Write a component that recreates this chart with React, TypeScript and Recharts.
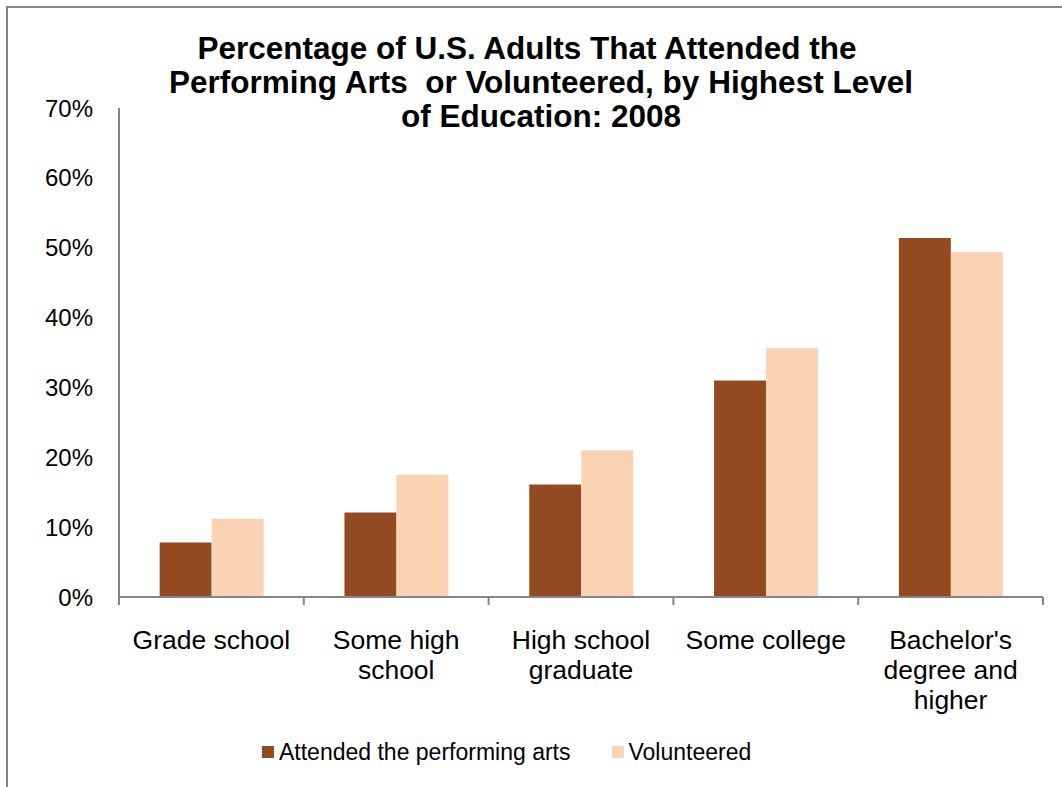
import React from 'react';
import { BarChart, Bar, XAxis, YAxis, Legend } from 'recharts';

// categories and values
const categories = ['Grade school', 'Some high school', 'High school graduate', 'Some college', "Bachelor's degree and higher"];
const categoryLines = [
  ['Grade school'],
  ['Some high', 'school'],
  ['High school', 'graduate'],
  ['Some college'],
  ["Bachelor's", 'degree and', 'higher']
];
const attended = [7.8, 12.1, 16.1, 31.0, 51.4];
const volunteered = [11.2, 17.5, 21.0, 35.6, 49.4];
const yTicks = [0, 10, 20, 30, 40, 50, 60, 70];

const seriesNames = ['Attended the performing arts', 'Volunteered'];
const colors = ['#934A21', '#FAD3B4'];
const titleLines = [
  'Percentage of U.S. Adults That Attended the',
  'Performing Arts\u00a0 or Volunteered, by Highest Level',
  'of Education: 2008'
];

const W = 1062;
const H = 787;
const PLOT_LEFT = 119;
const PLOT_RIGHT = 1043;
const BAND = (PLOT_RIGHT - PLOT_LEFT) / categories.length;
const AXIS_COLOR = '#868686';
const FONT = '"Liberation Sans", Arial, sans-serif';

const data = categories.map((name, i) => ({
  name,
  attended: attended[i],
  volunteered: volunteered[i]
}));

function XTick(props: any) {
  const { x, y, payload, index } = props;
  const i = payload.index ?? index;
  const lines = categoryLines[i] || [String(payload.value)];
  const left = x - BAND / 2;
  const right = x + BAND / 2;
  const last = i === categories.length - 1;
  return (
    <g>
      <line x1={left} y1={y} x2={left} y2={y + 8} stroke={AXIS_COLOR} strokeWidth={2} />
      {last && <line x1={right} y1={y} x2={right} y2={y + 8} stroke={AXIS_COLOR} strokeWidth={2} />}
      <text x={x} y={y} textAnchor="middle" fill="#000" fontFamily={FONT} fontSize={26.5}>
        {lines.map((l: string, k: number) => (
          <tspan key={k} x={x} dy={k === 0 ? 52 : 30}>{l}</tspan>
        ))}
      </text>
    </g>
  );
}

function LegendContent() {
  return (
    <div style={{ height: 60, display: 'flex', justifyContent: 'flex-start', alignItems: 'flex-start', paddingTop: 12, paddingLeft: 262, boxSizing: 'border-box', fontFamily: FONT, fontSize: 23, color: '#000' }}>
      {seriesNames.map((n, i) => (
        <div key={n} style={{ display: 'flex', alignItems: 'center', marginRight: i === 0 ? 41 : 0, lineHeight: '26px' }}>
          <span style={{ display: 'inline-block', width: 12, height: 12, background: colors[i], marginRight: 5 }} />
          <span>{n}</span>
        </div>
      ))}
    </div>
  );
}

export default function App() {
  return (
    <div style={{ position: 'absolute', left: 0, top: 0, width: W, height: H, overflow: 'hidden', background: '#fff' }}>
      <div style={{ position: 'absolute', left: 6, top: 6, width: W + 40, height: H + 40, borderLeft: `2px solid ${AXIS_COLOR}`, borderTop: `2px solid ${AXIS_COLOR}` }} />
      <BarChart
        width={W}
        height={H}
        data={data}
        margin={{ top: 108, right: W - PLOT_RIGHT, left: 0, bottom: 0 }}
        barCategoryGap="22%"
        barGap={0}
      >
        <YAxis
          width={PLOT_LEFT}
          domain={[0, 70]}
          ticks={yTicks}
          tickFormatter={(v: number) => `${v}%`}
          tickLine={false}
          tickSize={0}
          tickMargin={26}
          axisLine={{ stroke: AXIS_COLOR, strokeWidth: 2 }}
          tick={{ fill: '#000', fontFamily: FONT, fontSize: 24 }}
          interval={0}
        />
        <XAxis
          dataKey="name"
          height={130}
          tickLine={false}
          tickSize={0}
          tickMargin={0}
          interval={0}
          axisLine={{ stroke: AXIS_COLOR, strokeWidth: 2 }}
          tick={<XTick />}
        />
        <Legend verticalAlign="bottom" height={60} content={<LegendContent />} />
        <Bar dataKey="attended" name={seriesNames[0]} fill={colors[0]} isAnimationActive={false} />
        <Bar dataKey="volunteered" name={seriesNames[1]} fill={colors[1]} isAnimationActive={false} />
      </BarChart>
      {titleLines.map((t, i) => (
        <div
          key={i}
          style={{
            position: 'absolute',
            left: 0,
            top: 31 + i * 34,
            width: i === 0 ? 1054 : 1082,
            textAlign: 'center',
            fontFamily: FONT,
            fontWeight: 'bold',
            fontSize: 31.5,
            lineHeight: '34px',
            color: '#000',
            whiteSpace: 'nowrap'
          }}
        >
          {t}
        </div>
      ))}
    </div>
  );
}
